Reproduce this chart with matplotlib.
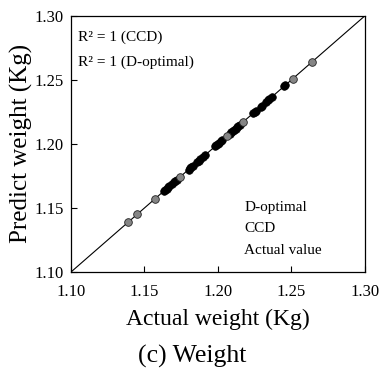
import numpy as np
import matplotlib
matplotlib.use("Agg")
import matplotlib.pyplot as plt

plt.rcParams["font.family"] = ["Liberation Serif", "DejaVu Serif"]

# D-optimal points (gray)
dopt_actual = [1.139, 1.145, 1.157, 1.174, 1.206, 1.217, 1.251, 1.264]
dopt_pred = [1.139, 1.145, 1.157, 1.174, 1.206, 1.217, 1.251, 1.264]

# CCD points (black)
ccd_actual = [1.163, 1.164, 1.165, 1.166, 1.167, 1.169, 1.170, 1.171, 1.172,
              1.180, 1.181, 1.182, 1.183, 1.186, 1.187, 1.188, 1.190, 1.191,
              1.198, 1.199, 1.200, 1.201, 1.202, 1.203, 1.208, 1.209, 1.210,
              1.211, 1.212, 1.213, 1.214, 1.215, 1.224, 1.225, 1.226, 1.229,
              1.230, 1.233, 1.234, 1.235, 1.237, 1.245, 1.246]
ccd_pred = list(ccd_actual)

line_vals = [1.10, 1.30]
ticks = [1.10, 1.15, 1.20, 1.25, 1.30]
tick_labels = ["1.10", "1.15", "1.20", "1.25", "1.30"]

fig = plt.figure(figsize=(3.82, 3.70), dpi=100)
ax = fig.add_axes([0.186, 0.265, 0.769, 0.692])

ax.plot(line_vals, line_vals, color="black", linewidth=0.8, label="Actual value", zorder=1)
ax.plot(ccd_actual, ccd_pred, linestyle="none", marker="o", markersize=5.5,
        markerfacecolor="black", markeredgecolor="black", markeredgewidth=0.5,
        label="CCD", zorder=2)
ax.plot(dopt_actual, dopt_pred, linestyle="none", marker="o", markersize=5.5,
        markerfacecolor="#858585", markeredgecolor="#222222", markeredgewidth=0.6,
        label="D-optimal", zorder=3)

ax.set_xlim(1.10, 1.30)
ax.set_ylim(1.10, 1.30)
ax.set_xticks(ticks)
ax.set_xticklabels(tick_labels)
ax.set_yticks(ticks)
ax.set_yticklabels(tick_labels)
ax.tick_params(direction="in", length=4, width=0.8, labelsize=12)
ax.tick_params(axis="x", pad=9)
ax.tick_params(axis="y", pad=5)
for sp in ax.spines.values():
    sp.set_linewidth(0.9)

ax.set_xlabel("Actual weight (Kg)", fontsize=17)
ax.xaxis.set_label_coords(0.5, -0.145)
ax.set_ylabel("Predict weight (Kg)", fontsize=18)
ax.yaxis.set_label_coords(-0.128, 0.5)

ax.text(0.024, 0.918, "R\u00b2 = 1 (CCD)", transform=ax.transAxes, fontsize=11, va="center")
ax.text(0.024, 0.82, "R\u00b2 = 1 (D-optimal)", transform=ax.transAxes, fontsize=11, va="center")

# legend entries appear as text only in the reference
handles, labels = ax.get_legend_handles_labels()
order = [2, 1, 0]
leg = ax.legend([handles[i] for i in order], [labels[i] for i in order],
                loc="lower left", frameon=False, fontsize=11,
                handlelength=0, handletextpad=0, markerscale=0,
                borderpad=0, borderaxespad=0,
                bbox_to_anchor=(0.59, 0.06), labelspacing=0.5)
for h in leg.legend_handles:
    h.set_visible(False)

fig.text(0.503, 0.036, "(c) Weight", fontsize=18.5, ha="center", va="center")

fig.savefig("out.png", dpi=100)
